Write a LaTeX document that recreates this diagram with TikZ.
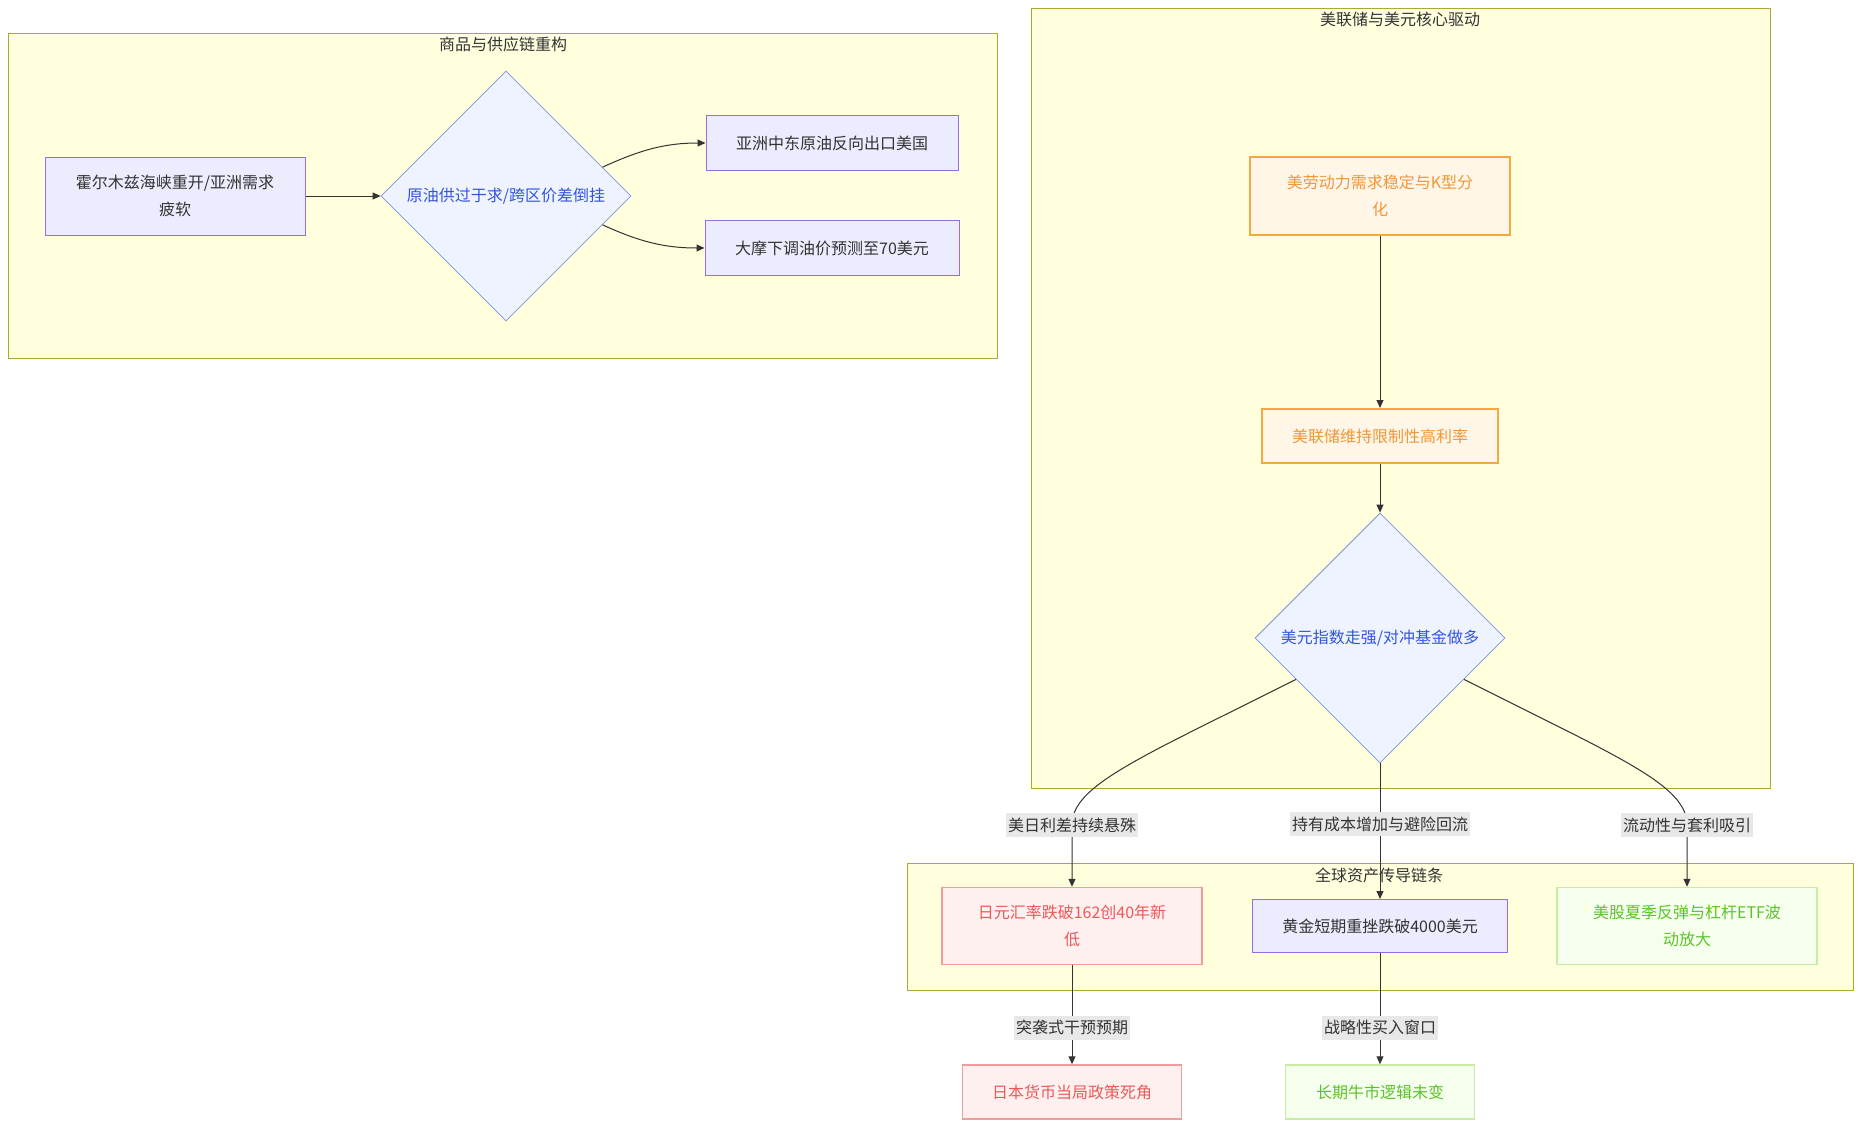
\documentclass[tikz,border=0pt]{standalone}
\usepackage{fontspec}
\setmainfont{Noto Sans CJK SC}
\usetikzlibrary{shapes.geometric,arrows.meta,positioning,calc}
\usepackage{xcolor}
\definecolor{Ink}{HTML}{333333}
\definecolor{GroupBg}{HTML}{FFFFDE}
\definecolor{GroupLine}{HTML}{AAAA33}
\definecolor{BoxBg}{HTML}{ECECFF}
\definecolor{BoxLine}{HTML}{9370DB}
\definecolor{DecBg}{HTML}{EEF3FF}
\definecolor{DecLine}{HTML}{7B93DB}
\definecolor{DecInk}{HTML}{3355DD}
\definecolor{WarmBg}{HTML}{FFF6E8}
\definecolor{WarmLine}{HTML}{F5A742}
\definecolor{WarmInk}{HTML}{F0963A}
\definecolor{RedBg}{HTML}{FFF0F0}
\definecolor{RedLine}{HTML}{F29B9B}
\definecolor{RedInk}{HTML}{E85A5A}
\definecolor{GreenBg}{HTML}{F6FFED}
\definecolor{GreenLine}{HTML}{C6EDA6}
\definecolor{GreenInk}{HTML}{5CC22B}
\definecolor{LabBg}{HTML}{E8E8E8}
\tikzset{
  fbox/.style={rectangle,draw=BoxLine,fill=BoxBg,text=Ink,line width=1pt,
               font=\fontsize{16}{27}\selectfont,align=center,inner sep=0pt},
  fdec/.style={diamond,aspect=1,draw=DecLine,fill=DecBg,text=DecInk,line width=0.8pt,
               font=\fontsize{16}{27}\selectfont,minimum width=250pt,minimum height=250pt,
               inner sep=0pt},
  fwarm/.style={fbox,draw=WarmLine,fill=WarmBg,text=WarmInk,line width=2pt},
  fred/.style={fbox,draw=RedLine,fill=RedBg,text=RedInk,line width=1.5pt},
  fgreen/.style={fbox,draw=GreenLine,fill=GreenBg,text=GreenInk,line width=1.5pt},
  fgroup/.style={draw=GroupLine,fill=GroupBg,line width=1pt},
  ftitle/.style={text=Ink,font=\fontsize{16}{20}\selectfont,inner sep=0pt},
  flab/.style={fill=LabBg,text=Ink,font=\fontsize{16}{20}\selectfont,inner sep=2pt,
               minimum height=24pt},
  fedge/.style={-{Triangle[length=8pt,width=7pt]},Ink,line width=1pt},
}

\begin{document}
\begin{tikzpicture}[x=1pt,y=-1pt]
  \useasboundingbox[fill=white] (0,0) rectangle (1861,1127);

  % groups
  \draw[fgroup] (8,33) rectangle (997,358);
  \node[ftitle] (g1) at (503,44) {商品与供应链重构};
  \draw[fgroup] (1031,8) rectangle (1770,788);
  \node[ftitle] (g2) at (1400,19) {美联储与美元核心驱动};
  \draw[fgroup] (907,863) rectangle (1853,990);
  \node[ftitle] (g3) at (1379,875) {全球资产传导链条};

  % commodities
  \node[fbox,minimum width=260pt,minimum height=78pt] (hormuz) at (175,196)
    {霍尔木兹海峡重开/亚洲需求\\疲软};
  \node[fdec] (glut) at (506,196) {原油供过于求/跨区价差倒挂};
  \node[fbox,minimum width=252pt,minimum height=55pt] (export) at (832,143)
    {亚洲中东原油反向出口美国};
  \node[fbox,minimum width=254pt,minimum height=55pt] (morgan) at (832,248)
    {大摩下调油价预测至70美元};

  % fed and dollar
  \node[fwarm,minimum width=260pt,minimum height=78pt] (labor) at (1380,196)
    {美劳动力需求稳定与K型分\\化};
  \node[fwarm,minimum width=236pt,minimum height=54pt] (fed) at (1380,436)
    {美联储维持限制性高利率};
  \node[fdec] (dxy) at (1380,638) {美元指数走强/对冲基金做多};

  % global assets
  \node[fred,minimum width=260pt,minimum height=77pt] (yen) at (1072,926)
    {日元汇率跌破162创40年新\\低};
  \node[fbox,minimum width=255pt,minimum height=53pt] (gold) at (1380,926)
    {黄金短期重挫跌破4000美元};
  \node[fgreen,minimum width=260pt,minimum height=77pt] (stocks) at (1687,926)
    {美股夏季反弹与杠杆ETF波\\动放大};
  \node[fred,minimum width=219pt,minimum height=54pt] (boj) at (1072,1092)
    {日本货币当局政策死角};
  \node[fgreen,minimum width=189pt,minimum height=54pt] (bull) at (1380,1092)
    {长期牛市逻辑未变};

  \coordinate (glutUp) at ($(glut.east)!0.23!(glut.north)$);
  \coordinate (glutDn) at ($(glut.east)!0.23!(glut.south)$);
  \coordinate (dxyL) at ($(dxy.west)!0.33!(dxy.south)$);
  \coordinate (dxyR) at ($(dxy.east)!0.33!(dxy.south)$);
  \coordinate (yenIn) at (yen.north |- 0,825);
  \coordinate (stocksIn) at (stocks.north |- 0,825);

  % connectors
  \draw[fedge] (hormuz.east) -- (glut.west);
  \draw[fedge] (glutUp) .. controls (640,150) and (665,143) .. (export.west);
  \draw[fedge] (glutDn) .. controls (640,242) and (665,248) .. (morgan.west);
  \draw[fedge] (labor.south) -- (fed.north);
  \draw[fedge] (fed.south) -- (dxy.north);
  \draw[fedge] (dxyL) .. controls (1140,758) and (1072,785) .. (yenIn)
    -- node[flab,at start] {美日利差持续悬殊} (yen.north);
  \draw[fedge] (dxy.south) -- node[flab,pos=0.45] {持有成本增加与避险回流} (gold.north);
  \draw[fedge] (dxyR) .. controls (1620,758) and (1687,785) .. (stocksIn)
    -- node[flab,at start] {流动性与套利吸引} (stocks.north);
  \draw[fedge] (yen.south) -- node[flab,pos=0.63] {突袭式干预预期} (boj.north);
  \draw[fedge] (gold.south) -- node[flab,pos=0.67] {战略性买入窗口} (bull.north);
\end{tikzpicture}
\end{document}
